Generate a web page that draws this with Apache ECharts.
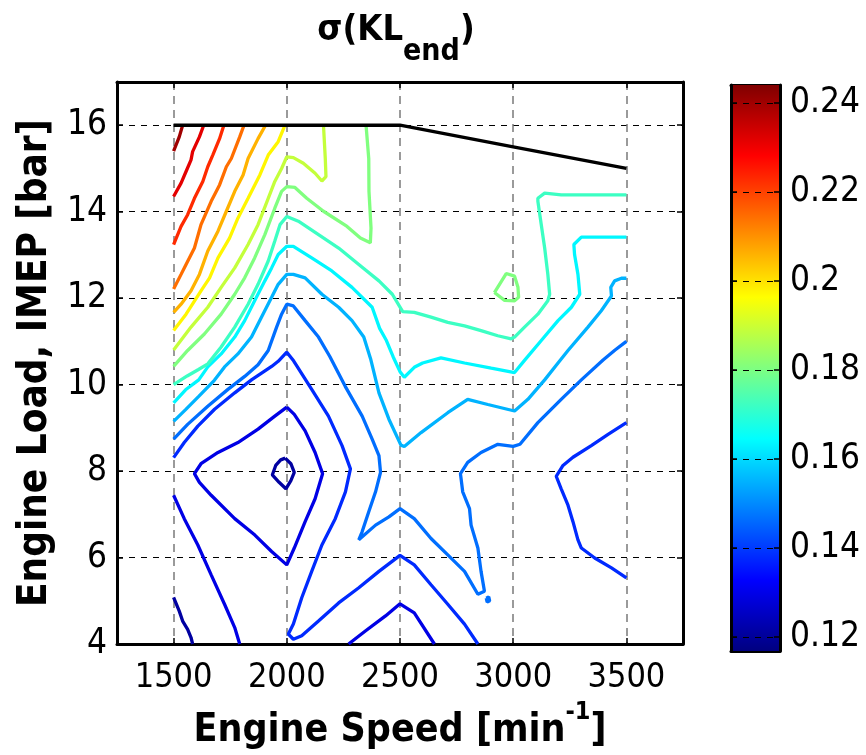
<!DOCTYPE html>
<html>
<head>
<meta charset="utf-8">
<script src="https://cdn.jsdelivr.net/npm/echarts@6/dist/echarts.min.js"></script>
<style>html,body{margin:0;padding:0;background:#fff;}#chart{width:866px;height:755px;}</style>
</head>
<body>
<div id="chart"></div>
<script>
// ---- axis ticks ----
const speedTicks = [1500, 2000, 2500, 3000, 3500];
const loadTicks = [4, 6, 8, 10, 12, 14, 16];
const cbarTicks = [0.12, 0.14, 0.16, 0.18, 0.2, 0.22, 0.24];
const speedRange = [1250, 3750];
const loadRange = [4, 17];
const cbarRange = [0.1168, 0.2441];

// ---- contour levels (sigma(KL_end)) ----
const levels = [0.1210, 0.1295, 0.1380, 0.1465, 0.1550, 0.1635, 0.1720, 0.1805,
                0.1890, 0.1975, 0.2060, 0.2145, 0.2230, 0.2315, 0.2400];

// ---- full-load boundary ----
const boundary = [[1500, 16], [2500, 16], [3000, 15.5], [3500, 15]];

// ---- contour polylines [speed, load] ----
const navyLoop = [[1993,8.30],[2018,8.17],[2033,7.97],[2018,7.78],[1996,7.59],[1966,7.74],[1936,7.91],[1951,8.13],[1973,8.26],[1993,8.30]];
const navyLeft = [[1500,5.08],[1525,4.76],[1540,4.53],[1562,4.34],[1577,4.15],[1584,4.0]];
const dkDiamond = [[2000,9.48],[2033,9.31],[2081,8.93],[2125,8.43],[2158,7.94],[2125,7.36],[2081,6.83],[2033,6.22],[2000,5.83],[1933,6.14],[1859,6.52],[1770,6.90],[1666,7.44],[1614,7.74],[1592,7.94],[1621,8.17],[1696,8.43],[1784,8.66],[1873,8.97],[1947,9.27],[2000,9.48]];
const dkLeft = [[1500,7.44],[1547,6.90],[1607,6.29],[1666,5.60],[1725,4.92],[1770,4.38],[1792,4.0]];
const dkBottom = [[2273,4.0],[2347,4.30],[2436,4.65],[2500,4.93],[2563,4.72],[2652,4.0]];
const blueMain = [[1500,8.31],[1547,8.66],[1607,9.04],[1681,9.43],[1770,9.81],[1844,10.11],[1933,10.42],[1962,10.54],[2000,10.75],[2030,10.55],[2110,9.89],[2184,9.27],[2244,8.59],[2281,8.05],[2259,7.52],[2214,6.90],[2155,6.29],[2110,5.68],[2066,5.07],[2029,4.46],[2007,4.23],[2029,4.11],[2066,4.19],[2140,4.53],[2229,4.95],[2318,5.30],[2407,5.68],[2500,6.05],[2563,5.83],[2637,5.37],[2711,4.92],[2785,4.46],[2844,4.0]];
const blueRight = [[3500,9.12],[3419,8.85],[3345,8.59],[3264,8.32],[3220,8.13],[3190,7.88],[3212,7.59],[3242,7.21],[3264,6.83],[3286,6.41],[3301,6.22],[3360,5.99],[3434,5.76],[3500,5.53]];
const medMain = [[1500,8.74],[1562,9.08],[1651,9.50],[1740,9.89],[1814,10.19],[1873,10.46],[1918,10.79],[1955,11.33],[1977,11.63],[2000,11.86],[2029,11.82],[2081,11.48],[2140,11.10],[2190,10.65],[2258,9.96],[2333,9.27],[2377,8.74],[2407,8.36],[2414,7.97],[2392,7.52],[2362,7.06],[2333,6.60],[2318,6.41],[2392,6.75],[2451,6.94],[2500,7.13],[2563,6.90],[2637,6.44],[2711,6.06],[2785,5.68],[2844,5.15],[2873,5.22],[2858,5.68],[2844,6.22],[2814,6.75],[2807,7.13],[2777,7.52],[2767,7.94],[2799,8.20],[2858,8.43],[2932,8.62],[3000,8.57],[3030,8.62],[3109,9.12],[3212,9.66],[3301,10.11],[3397,10.57],[3450,10.8],[3500,11.0]];
const medDot = [[2881,5.06],[2892,5.09],[2896,5.0],[2885,4.97],[2881,5.06]];
const ltBlue = [[1500,9.15],[1553,9.42],[1611,9.73],[1680,10.10],[1725,10.41],[1784,10.71],[1844,11.10],[1888,11.56],[1933,12.02],[1962,12.32],[2000,12.55],[2029,12.55],[2081,12.47],[2155,12.09],[2229,11.79],[2288,11.48],[2340,11.10],[2370,10.60],[2407,9.81],[2451,9.20],[2504,8.60],[2519,8.57],[2593,8.89],[2711,9.35],[2799,9.66],[2888,9.54],[3006,9.39],[3065,9.66],[3139,10.11],[3198,10.50],[3242,10.79],[3330,11.33],[3389,11.71],[3434,12.05],[3431,12.25],[3448,12.40],[3478,12.46],[3500,12.46]];
const cyan = [[1500,9.58],[1553,9.88],[1611,10.11],[1651,10.41],[1710,10.71],[1770,11.10],[1814,11.48],[1858,11.94],[1903,12.40],[1933,12.70],[1962,13.01],[2000,13.20],[2029,13.20],[2110,12.93],[2199,12.63],[2288,12.25],[2377,11.79],[2410,11.30],[2440,11.02],[2470,10.64],[2500,10.30],[2519,10.17],[2563,10.40],[2600,10.50],[2681,10.62],[2785,10.50],[2903,10.38],[3006,10.28],[3050,10.56],[3124,11.02],[3198,11.48],[3257,11.79],[3294,12.09],[3286,12.55],[3271,13.01],[3268,13.24],[3301,13.41],[3500,13.41]];
const aqua = [[1500,10.00],[1560,10.20],[1610,10.35],[1651,10.48],[1710,10.87],[1770,11.33],[1829,11.86],[1873,12.32],[1918,12.86],[1947,13.32],[1970,13.70],[2000,13.89],[2051,13.78],[2140,13.47],[2229,13.16],[2318,12.78],[2407,12.40],[2466,12.09],[2512,11.69],[2563,11.67],[2637,11.56],[2711,11.44],[2785,11.36],[2858,11.25],[2932,11.13],[2991,11.06],[3006,11.10],[3050,11.33],[3109,11.63],[3153,11.94],[3161,12.09],[3153,12.55],[3139,13.16],[3124,13.70],[3109,14.24],[3109,14.31],[3139,14.43],[3212,14.39],[3301,14.39],[3500,14.39]];
const green = [[1500,10.42],[1562,10.79],[1636,11.17],[1710,11.63],[1770,12.09],[1814,12.47],[1858,12.93],[1903,13.47],[1947,14.08],[1977,14.47],[2000,14.58],[2036,14.56],[2088,14.31],[2162,14.01],[2266,13.66],[2325,13.39],[2369,13.28],[2372,13.62],[2363,14.47],[2362,15.23],[2350,16]];
const greenLoop = [[2917,12.13],[2969,12.57],[3006,12.51],[3021,12.25],[3024,12.02],[3006,11.94],[2962,11.95],[2917,12.13]];
const ygreen = [[1500,10.80],[1577,11.33],[1651,11.79],[1710,12.25],[1770,12.70],[1829,13.24],[1873,13.70],[1918,14.31],[1947,14.70],[1977,15.00],[2000,15.27],[2029,15.25],[2073,15.12],[2125,14.89],[2155,14.71],[2173,14.81],[2170,15.23],[2162,16]];
const gold = [[1500,11.25],[1555,11.63],[1621,12.17],[1659,12.47],[1696,12.93],[1747,13.39],[1784,13.85],[1829,14.31],[1881,14.85],[1918,15.31],[1962,15.62],[1992,16]];
const orange = [[1500,11.67],[1533,11.86],[1577,12.17],[1614,12.55],[1651,13.09],[1696,13.55],[1733,14.01],[1770,14.47],[1807,14.85],[1829,15.23],[1873,15.69],[1906,16]];
const orangeRed = [[1500,12.21],[1533,12.55],[1555,12.78],[1592,13.16],[1621,13.70],[1666,14.24],[1703,14.62],[1733,15.04],[1755,15.23],[1792,15.73],[1811,16]];
const red = [[1500,13.24],[1533,13.66],[1562,13.93],[1592,14.31],[1629,14.70],[1651,15.04],[1673,15.31],[1703,15.69],[1722,16]];
const darkRed = [[1500,14.35],[1533,14.66],[1555,14.93],[1577,15.20],[1584,15.39],[1614,15.73],[1633,16]];
const darkestRed = [[1500,15.40],[1525,15.73],[1540,16]];

// [level index, polyline]
const contourLines = [
  [0, navyLoop], [0, navyLeft],
  [1, dkDiamond], [1, dkLeft], [1, dkBottom],
  [2, blueMain], [2, blueRight],
  [3, medMain], [3, medDot],
  [4, ltBlue], [5, cyan], [6, aqua],
  [7, green], [7, greenLoop], [8, ygreen],
  [9, gold], [10, orange], [11, orangeRed], [12, red], [13, darkRed], [14, darkestRed]
];

function clamp01(v) { return Math.max(0, Math.min(1, v)); }
function jet(f) {
  const r = clamp01(1.5 - Math.abs(4 * f - 3));
  const g = clamp01(1.5 - Math.abs(4 * f - 2));
  const b = clamp01(1.5 - Math.abs(4 * f - 1));
  return 'rgb(' + Math.round(r * 255) + ',' + Math.round(g * 255) + ',' + Math.round(b * 255) + ')';
}
function levelColor(v) { return jet((v - cbarRange[0]) / (cbarRange[1] - cbarRange[0])); }

const FF = "'DejaVu Sans Condensed', 'Liberation Sans Narrow', 'Liberation Sans', sans-serif";
const plainNum = function (v) { return String(v); };

const series = contourLines.map(function (c) {
  return {
    type: 'line', xAxisIndex: 0, yAxisIndex: 0,
    data: c[1], showSymbol: false, symbol: 'none', silent: true,
    lineStyle: { color: levelColor(levels[c[0]]), width: 3.3 },
    z: 3
  };
});
series.push({
  type: 'line', xAxisIndex: 0, yAxisIndex: 0, data: boundary,
  showSymbol: false, symbol: 'none', silent: true,
  lineStyle: { color: '#000', width: 3.3 }, z: 4
});
// colorbar
series.push({
  type: 'bar', xAxisIndex: 2, yAxisIndex: 2, stack: 'cb', barWidth: '100%', silent: true,
  data: [cbarRange[0]], itemStyle: { color: 'rgba(0,0,0,0)' }
});
series.push({
  type: 'bar', xAxisIndex: 2, yAxisIndex: 2, stack: 'cb', barWidth: '100%', silent: true,
  data: [cbarRange[1] - cbarRange[0]],
  itemStyle: {
    color: new echarts.graphic.LinearGradient(0, 0, 0, 1, [
      { offset: 0, color: jet(1) }, { offset: 0.125, color: jet(0.875) },
      { offset: 0.375, color: jet(0.625) }, { offset: 0.625, color: jet(0.375) },
      { offset: 0.875, color: jet(0.125) }, { offset: 1, color: jet(0) }
    ])
  }
});

const axisLineBlack = { show: true, onZero: false, lineStyle: { color: '#000', width: 3 } };
const tickStyle = { show: true, inside: true, length: 6, lineStyle: { color: '#000', width: 1.5 } };

const option = {
  animation: false,
  backgroundColor: '#fff',
  title: {
    text: '{a|σ(KL}{b|end}{a|)}',
    left: 391, top: 8, textAlign: 'center',
    textStyle: {
      rich: {
        a: { fontFamily: FF, fontWeight: 'bold', fontSize: 36, color: '#000', lineHeight: 54, verticalAlign: 'top' },
        b: { fontFamily: FF, fontWeight: 'bold', fontSize: 30, color: '#000', lineHeight: 54, verticalAlign: 'bottom' }
      }
    }
  },
  grid: [
    { left: 117, top: 82, width: 566, height: 564, containLabel: false },
    { left: 731, top: 85, width: 49, height: 566, containLabel: false }
  ],
  xAxis: [
    {
      type: 'value', gridIndex: 0, position: 'bottom', min: speedRange[0], max: speedRange[1],
      axisLine: axisLineBlack, axisTick: Object.assign({ customValues: speedTicks }, tickStyle),
      axisLabel: { customValues: speedTicks, formatter: plainNum, fontFamily: FF, fontSize: 34, color: '#000', margin: 17 },
      splitLine: { show: true, lineStyle: { color: '#7a7a7a', width: 1.5, type: [8, 6] } },
      name: '{a|Engine Speed [min}{s|-1}{a|]}', nameLocation: 'middle', nameGap: 56,
      nameTextStyle: {
        rich: {
          a: { fontFamily: FF, fontWeight: 'bold', fontSize: 39, color: '#000', lineHeight: 50, verticalAlign: 'bottom' },
          s: { fontFamily: FF, fontWeight: 'bold', fontSize: 25, color: '#000', lineHeight: 50, verticalAlign: 'top' }
        }
      }
    },
    {
      type: 'value', gridIndex: 0, position: 'top', min: speedRange[0], max: speedRange[1],
      axisLine: axisLineBlack, axisTick: Object.assign({ customValues: speedTicks }, tickStyle),
      axisLabel: { show: false, customValues: speedTicks }, splitLine: { show: false }
    },
    {
      type: 'category', gridIndex: 1, position: 'bottom', data: [''],
      axisLine: axisLineBlack, axisTick: { show: false }, axisLabel: { show: false }, splitLine: { show: false }
    },
    {
      type: 'category', gridIndex: 1, position: 'top', data: [''],
      axisLine: axisLineBlack, axisTick: { show: false }, axisLabel: { show: false }, splitLine: { show: false }
    }
  ],
  yAxis: [
    {
      type: 'value', gridIndex: 0, position: 'left', min: loadRange[0], max: loadRange[1],
      axisLine: axisLineBlack, axisTick: Object.assign({ customValues: loadTicks }, tickStyle),
      axisLabel: { customValues: loadTicks, formatter: plainNum, fontFamily: FF, fontSize: 35, color: '#000', margin: 10 },
      splitLine: { show: true, lineStyle: { color: '#000', width: 1, type: [6, 6] } },
      name: 'Engine Load, IMEP [bar]', nameLocation: 'middle', nameGap: 52, nameRotate: 90,
      nameTextStyle: { fontFamily: FF, fontWeight: 'bold', fontSize: 40, color: '#000' }
    },
    {
      type: 'value', gridIndex: 0, position: 'right', min: loadRange[0], max: loadRange[1],
      axisLine: axisLineBlack, axisTick: Object.assign({ customValues: loadTicks }, tickStyle),
      axisLabel: { show: false, customValues: loadTicks }, splitLine: { show: false }
    },
    {
      type: 'value', gridIndex: 1, position: 'right', min: cbarRange[0], max: cbarRange[1], z: 5,
      axisLine: axisLineBlack, axisTick: Object.assign({ customValues: cbarTicks }, tickStyle),
      axisLabel: { customValues: cbarTicks, formatter: plainNum, fontFamily: FF, fontSize: 35, color: '#000', margin: 10 },
      splitLine: { show: true, lineStyle: { color: '#000', width: 1, type: [6, 6] } }
    },
    {
      type: 'value', gridIndex: 1, position: 'left', min: cbarRange[0], max: cbarRange[1], z: 5,
      axisLine: axisLineBlack, axisTick: Object.assign({ customValues: cbarTicks }, tickStyle),
      axisLabel: { show: false, customValues: cbarTicks }, splitLine: { show: false }
    }
  ],
  series: series
};

const chart = echarts.init(document.getElementById('chart'), null, { renderer: 'canvas' });
chart.setOption(option);
</script>
</body>
</html>
